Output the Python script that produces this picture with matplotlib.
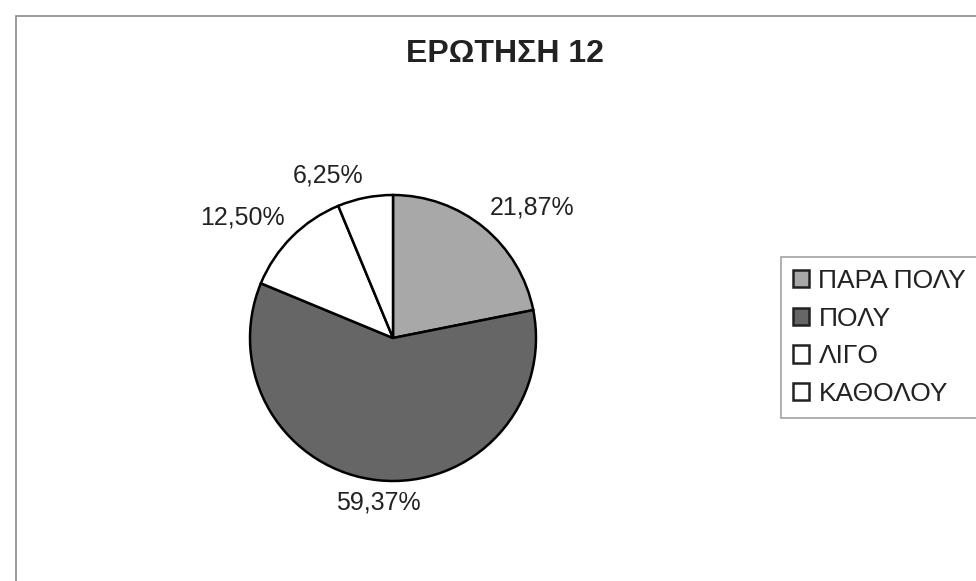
import numpy as np
import matplotlib
matplotlib.use("Agg")
import matplotlib.pyplot as plt
from matplotlib.patches import Rectangle

plt.rcParams['font.family'] = ['Liberation Sans', 'DejaVu Sans']

# survey answers, question 12
categories = ['ΠΑΡΑ ΠΟΛΥ', 'ΠΟΛΥ', 'ΛΙΓΟ', 'ΚΑΘΟΛΟΥ']
percent = [21.87, 59.37, 12.50, 6.25]
colors = ['#a8a8a8', '#666666', '#ffffff', '#ffffff']
title = 'ΕΡΩΤΗΣΗ 12'

W, H = 976, 581
fig = plt.figure(figsize=(W / 100, H / 100), dpi=100)
fig.patch.set_facecolor('white')

# one axes over the whole canvas, 1 data unit = 1 pixel
ax = fig.add_axes([0, 0, 1, 1])
ax.set_xlim(0, W)
ax.set_ylim(0, H)
ax.set_aspect('equal')
ax.axis('off')

# chart area frame (runs off the right and bottom edges)
ax.add_patch(Rectangle((16, -20), W + 20, H - 16 + 20, fill=False,
                       edgecolor='#8a8a8a', linewidth=1.2))

cx, cy, r = 393, H - 338, 143
wedges, _ = ax.pie(percent, colors=colors, startangle=90, counterclock=False,
                   center=(cx, cy), radius=r,
                   wedgeprops=dict(edgecolor='black', linewidth=1.8))
ax.set_xlim(0, W)
ax.set_ylim(0, H)

# value labels just outside each slice
for w, v in zip(wedges, percent):
    mid = np.deg2rad((w.theta1 + w.theta2) / 2)
    c, s = np.cos(mid), np.sin(mid)
    px, py = cx + 1.07 * r * c, cy + 1.07 * r * s
    ha = 'center' if abs(c) < 0.15 else ('left' if c > 0 else 'right')
    va = 'bottom' if s > 0 else 'top'
    ax.text(px, py, f'{v:.2f}%'.replace('.', ','), ha=ha, va=va,
            fontsize=18, color='#222222')

ax.text(505, H - 54, title, ha='center', va='center', fontsize=23,
        fontweight='bold', color='#222222')

leg = ax.legend(wedges, categories, loc='upper left',
                bbox_to_anchor=(781 / W, 1 - 257 / H), fontsize=19,
                frameon=True, fancybox=False, handlelength=0.62,
                handleheight=0.62, handletextpad=0.35, labelspacing=0.52,
                borderpad=0.45, borderaxespad=0)
leg.get_frame().set_edgecolor('#8a8a8a')
leg.get_frame().set_linewidth(1.2)
for h in leg.legend_handles:
    h.set_edgecolor('#222222')
    h.set_linewidth(1.8)
for t in leg.get_texts():
    t.set_color('#222222')

fig.savefig('out.png', dpi=100, facecolor='white')
